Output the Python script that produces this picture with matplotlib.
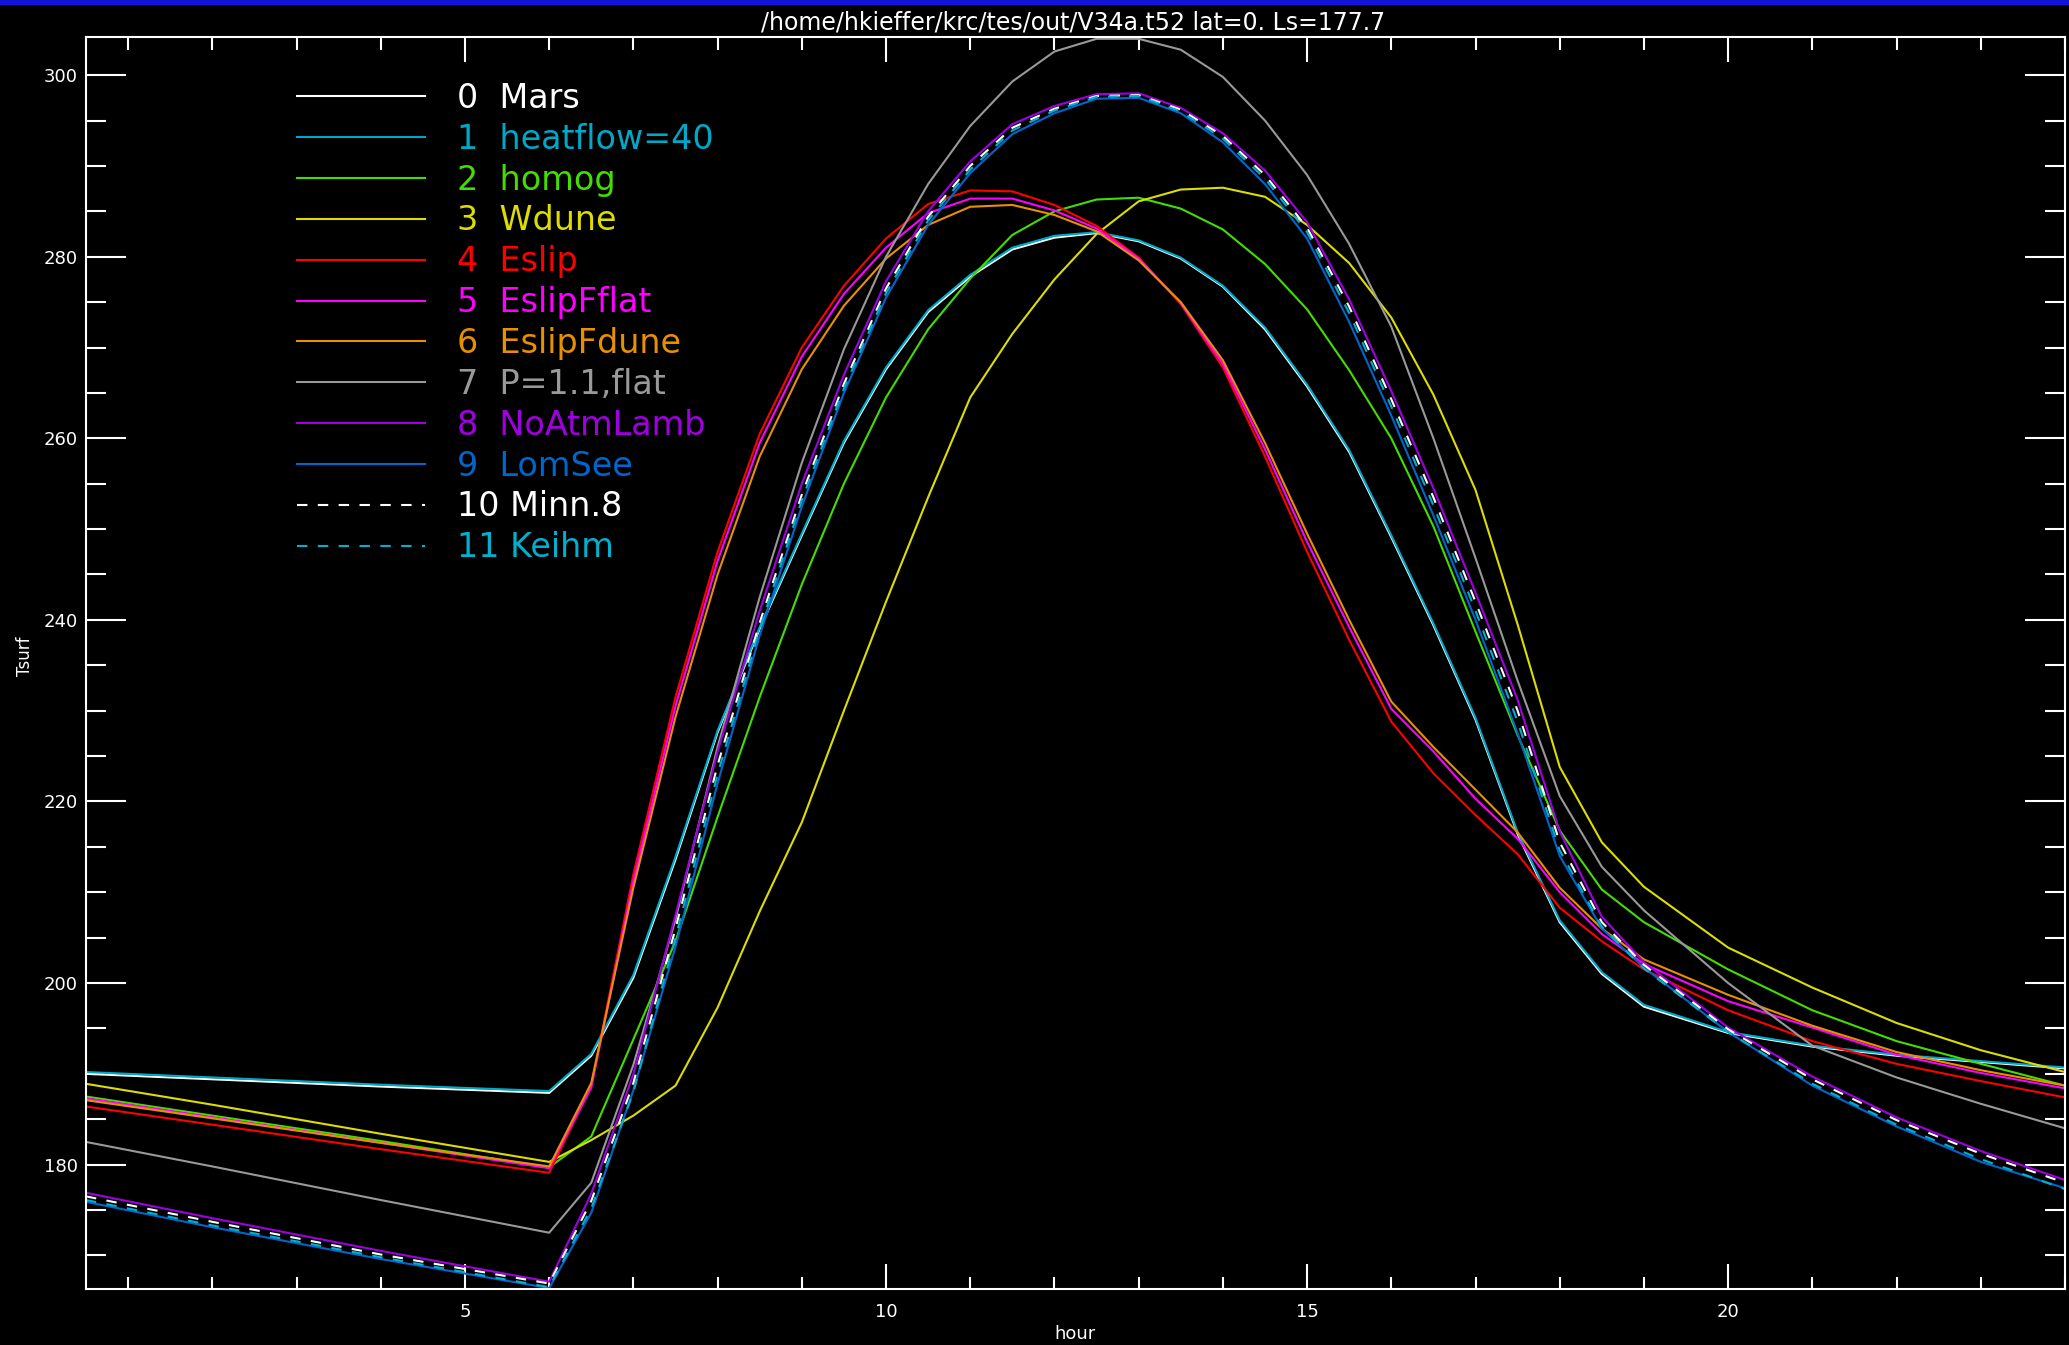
import matplotlib
matplotlib.use('Agg')
import matplotlib.pyplot as plt
from matplotlib.ticker import MultipleLocator
from matplotlib.patches import Rectangle

# local time (hours) of the samples shared by all runs
hours = [0.5, 2, 4, 6, 6.5, 7, 7.5, 8, 8.5, 9, 9.5, 10, 10.5, 11, 11.5, 12,
         12.5, 13, 13.5, 14, 14.5, 15, 15.5, 16, 16.5, 17, 17.5, 18, 18.5, 19,
         20, 21, 22, 23, 24]

# surface temperature (K) for each case
t_mars = [190.0, 189.4, 188.6, 187.9, 192.0, 200.6, 213.6, 227.6, 239.0, 249.3, 259.5, 267.6,
          273.9, 277.8, 280.8, 282.1, 282.6, 281.7, 279.8, 276.7, 272.0, 265.7, 258.5, 249.1,
          239.4, 229.0, 216.4, 206.7, 201.0, 197.4, 194.5, 193.0, 192.0, 191.3, 190.6]
t_heatflow = [190.2, 189.6, 188.8, 188.1, 192.2, 200.9, 213.9, 227.8, 239.2, 249.5, 259.7, 267.8,
              274.1, 278.0, 281.0, 282.3, 282.7, 281.8, 279.9, 276.8, 272.2, 265.9, 258.7, 249.3,
              239.6, 229.2, 216.6, 206.9, 201.2, 197.6, 194.6, 193.1, 192.1, 191.4, 190.7]
t_homog = [187.5, 185.4, 182.6, 179.7, 183.1, 193.8, 204.6, 218.3, 231.5, 243.9, 255.0, 264.5,
           272.0, 277.6, 282.4, 285.0, 286.3, 286.5, 285.3, 283.0, 279.2, 274.2, 267.5, 260.0,
           250.3, 238.7, 227.3, 216.8, 210.3, 206.7, 201.5, 197.0, 193.6, 191.1, 188.7]
t_wdune = [188.9, 186.6, 183.4, 180.3, 182.7, 185.4, 188.7, 197.3, 207.9, 217.7, 230.0, 242.0,
           253.5, 264.5, 271.5, 277.5, 282.5, 286.1, 287.4, 287.6, 286.6, 283.5, 279.3, 273.3,
           264.8, 254.3, 239.5, 223.8, 215.5, 210.6, 203.9, 199.5, 195.6, 192.6, 190.2]
t_eslip = [186.4, 184.4, 181.7, 179.1, 188.7, 212.0, 231.5, 247.5, 260.5, 270.0, 276.8, 282.0,
           285.8, 287.3, 287.2, 285.7, 283.4, 279.9, 274.8, 267.8, 258.0, 247.5, 237.8, 228.8,
           223.1, 218.5, 214.2, 208.3, 204.6, 201.5, 197.0, 193.6, 191.1, 189.2, 187.4]
t_eslip_fflat = [187.3, 185.2, 182.4, 179.6, 188.5, 211.2, 230.5, 246.5, 259.5, 269.0, 275.9, 281.0,
                 284.8, 286.4, 286.4, 285.1, 283.1, 279.8, 274.9, 268.2, 258.8, 248.6, 239.2, 230.2,
                 225.5, 220.3, 215.9, 210.0, 205.4, 202.1, 198.0, 195.1, 192.1, 190.1, 188.4]
t_eslip_fdune = [187.1, 185.1, 182.4, 179.8, 189.0, 210.5, 229.3, 245.0, 258.0, 267.6, 274.6, 279.8,
                 283.5, 285.5, 285.7, 284.6, 282.8, 279.6, 275.0, 268.6, 259.5, 249.5, 240.0, 231.0,
                 226.0, 221.3, 216.6, 210.5, 206.0, 202.6, 198.7, 195.3, 192.4, 190.4, 188.7]
t_p11_flat = [182.5, 179.8, 176.1, 172.5, 178.0, 191.0, 207.0, 226.0, 242.5, 257.3, 269.8, 280.0,
              288.0, 294.4, 299.3, 302.6, 304.0, 304.0, 302.8, 299.8, 295.0, 289.0, 281.4, 272.3,
              260.0, 246.8, 233.3, 220.6, 212.8, 208.0, 200.0, 193.1, 189.6, 186.7, 184.0]
t_noatm = [176.9, 174.1, 170.5, 167.1, 176.8, 190.0, 207.5, 225.5, 241.0, 255.0, 267.0, 277.3,
           285.0, 290.5, 294.6, 296.6, 297.9, 298.0, 296.4, 293.6, 289.5, 283.8, 275.3, 265.2,
           254.5, 243.0, 231.2, 216.7, 207.3, 202.3, 195.1, 189.7, 185.2, 181.5, 178.3]
t_lomsee = [175.9, 173.1, 169.6, 166.4, 174.7, 188.2, 204.0, 222.0, 238.3, 252.5, 265.0, 275.5,
            283.5, 289.2, 293.5, 295.8, 297.4, 297.5, 295.8, 292.6, 288.0, 282.0, 272.8, 262.5,
            251.5, 240.0, 227.5, 214.0, 206.0, 201.7, 194.6, 188.7, 184.2, 180.3, 177.4]
t_minn = [176.5, 173.7, 170.1, 166.9, 176.0, 189.0, 206.0, 224.0, 239.7, 253.8, 266.0, 276.5,
          284.4, 290.0, 294.2, 296.3, 297.7, 297.8, 296.2, 293.3, 289.0, 283.2, 274.5, 264.3,
          253.5, 242.0, 230.0, 215.5, 206.7, 202.0, 194.9, 189.4, 184.9, 181.2, 178.0]
t_keihm = [176.1, 173.3, 169.8, 166.5, 175.2, 188.0, 205.0, 223.0, 239.0, 253.2, 265.5, 276.0,
           284.0, 289.6, 293.9, 296.1, 297.6, 297.7, 296.0, 293.0, 288.6, 282.7, 273.8, 263.5,
           252.6, 241.0, 228.8, 214.6, 206.2, 201.6, 194.6, 188.9, 184.4, 180.6, 177.3]

names = ['Mars', 'heatflow=40', 'homog', 'Wdune', 'Eslip', 'EslipFflat', 'EslipFdune',
         'P=1.1,flat', 'NoAtmLamb', 'LomSee', 'Minn.8', 'Keihm']
series = [t_mars, t_heatflow, t_homog, t_wdune, t_eslip, t_eslip_fflat, t_eslip_fdune,
          t_p11_flat, t_noatm, t_lomsee, t_minn, t_keihm]
colors = ['#ffffff', '#00a8c8', '#44dd00', '#dddd00', '#ff0000', '#ff00ff', '#e89000',
          '#999999', '#a000e0', '#0066cc', '#ffffff', '#00b0cc']
dash = (0, (5, 5))
styles = ['-'] * 10 + [dash, dash]

title = '/home/hkieffer/krc/tes/out/V34a.t52 lat=0. Ls=177.7'

fig = plt.figure(figsize=(20.69, 13.45), dpi=100, facecolor='black')
fig.patches.append(Rectangle((0, 1 - 4 / 1345), 1, 4 / 1345, transform=fig.transFigure,
                             color='#1414d8', zorder=5))
ax = fig.add_axes([86 / 2069, 56 / 1345, 1979 / 2069, 1252 / 1345], facecolor='black')

for i, (ys, name, c, ls) in enumerate(zip(series, names, colors, styles)):
    sep = '  ' if i < 10 else ' '
    ax.plot(hours, ys, color=c, ls=ls, lw=1.5, label=f'{i}{sep}{name}')

ax.set_xlim(0.5, 24)
ax.set_ylim(166.3, 304.2)
ax.xaxis.set_major_locator(MultipleLocator(5))
ax.xaxis.set_minor_locator(MultipleLocator(1))
ax.yaxis.set_major_locator(MultipleLocator(20))
ax.yaxis.set_minor_locator(MultipleLocator(5))

for sp in ax.spines.values():
    sp.set_color('white')
    sp.set_linewidth(1.5)
ax.tick_params(which='both', direction='in', colors='white', top=True, right=True,
               width=1.5, labelsize=13)
ax.tick_params(axis='x', which='major', length=18, pad=10)
ax.tick_params(axis='x', which='minor', length=9)
ax.tick_params(axis='y', which='major', length=29, pad=6)
ax.tick_params(axis='y', which='minor', length=14.5)

ax.set_xlabel('hour', color='white', fontsize=13, va='center')
ax.xaxis.set_label_coords(0.5, -0.036)
ax.set_ylabel('Tsurf', color='white', fontsize=12, va='center')
ax.yaxis.set_label_coords(-0.031, 0.505)

fig.text(1073 / 2069, 1 - 22 / 1345, title, ha='center', va='center',
         fontsize=17, color='white')

ax.legend(loc='upper left', bbox_to_anchor=(297 / 2069, 1 - 82 / 1345),
          bbox_transform=fig.transFigure, frameon=False, fontsize=24,
          handlelength=3.84, handletextpad=0.96, labelspacing=0.235,
          borderpad=0, borderaxespad=0, labelcolor='linecolor')

fig.savefig('out.png', dpi=100, facecolor='black')
